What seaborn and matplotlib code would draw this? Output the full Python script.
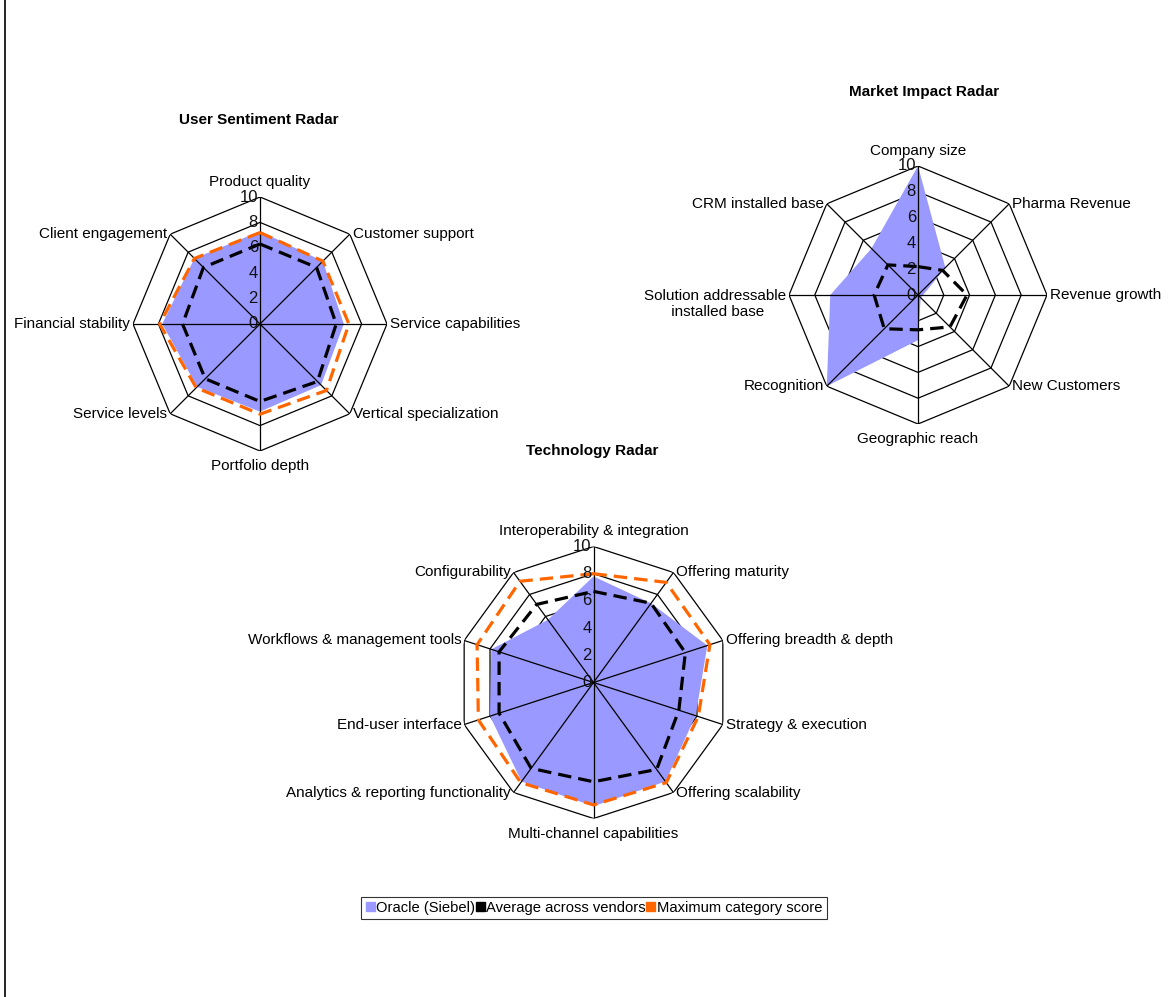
import numpy as np
import seaborn as sns
import matplotlib.pyplot as plt
from matplotlib.patches import Patch
from matplotlib.lines import Line2D

# data
us_labels = ['Product quality', 'Customer support', 'Service capabilities',
             'Vertical specialization', 'Portfolio depth', 'Service levels',
             'Financial stability', 'Client engagement']
us_oracle = [7.3, 7.0, 6.6, 6.8, 6.9, 7.0, 7.7, 7.3]
us_avg = [6.3, 6.3, 6.0, 6.4, 6.1, 6.1, 6.1, 6.3]
us_max = [7.2, 7.0, 7.0, 7.4, 7.1, 7.1, 7.9, 7.3]

mi_labels = ['Company size', 'Pharma Revenue', 'Revenue growth', 'New Customers',
             'Geographic reach', 'Recognition', 'Solution addressable\n installed base',
             'CRM installed base']
mi_oracle = [10.0, 3.0, 0.4, 0.3, 3.5, 10.0, 6.8, 5.1]
mi_avg = [2.2, 2.7, 3.8, 3.5, 2.7, 3.7, 3.4, 3.3]

tech_labels = ['Interoperability & integration', 'Offering maturity',
               'Offering breadth & depth', 'Strategy & execution', 'Offering scalability',
               'Multi-channel capabilities', 'Analytics & reporting functionality',
               'End-user interface', 'Workflows & management tools', 'Configurability']
tech_oracle = [7.8, 7.2, 8.8, 7.9, 9.0, 9.1, 9.0, 8.0, 7.9, 5.7]
tech_avg = [6.7, 7.2, 7.1, 6.6, 7.9, 7.3, 7.8, 7.3, 7.3, 7.1]
tech_max = [8.0, 9.1, 9.0, 8.1, 9.1, 9.0, 9.1, 8.9, 9.0, 9.2]

ring_levels = [2, 4, 6, 8, 10]
tick_levels = [0, 2, 4, 6, 8, 10]

ORACLE = '#9999FF'
ORANGE = '#FF6600'
DASH = (0, (4.2, 2.2))

sns.set_theme(style='white')
plt.rcParams['font.family'] = ['Liberation Sans', 'DejaVu Sans']
plt.rcParams['text.color'] = 'black'

W, H = 1174, 997
fig = plt.figure(figsize=(W / 100, H / 100), dpi=100)


def closed(a):
    return list(a) + [a[0]]


def radar(cx, cy, rad, labels, oracle, avg, mx=None):
    # cx, cy, rad in pixels (from top-left)
    ax = fig.add_axes([(cx - rad) / W, (H - cy - rad) / H, 2 * rad / W, 2 * rad / H],
                      projection='polar')
    ax.set_theta_zero_location('N')
    ax.set_theta_direction(-1)
    n = len(labels)
    th = np.linspace(0, 2 * np.pi, n, endpoint=False)
    thc = closed(th)

    for r in ring_levels:
        ax.plot(thc, [r] * (n + 1), color='black', lw=0.9, zorder=1)
    ax.fill(thc, closed(oracle), color=ORACLE, lw=0, zorder=2)
    for t in th:
        ax.plot([t, t], [0, 10], color='black', lw=0.9, zorder=3)

    sns.lineplot(x=thc, y=closed(avg), ax=ax, sort=False, estimator=None,
                 color='black', lw=2.3, linestyle=DASH, zorder=4)
    if mx is not None:
        sns.lineplot(x=thc, y=closed(mx), ax=ax, sort=False, estimator=None,
                     color=ORANGE, lw=2.3, linestyle=DASH, zorder=5)

    ax.set_ylim(0, 10)
    ax.grid(False)
    ax.spines['polar'].set_visible(False)
    ax.set_xticks([])
    ax.set_yticks([])
    ax.set_xlabel('')
    ax.set_ylabel('')
    ax.set_facecolor('none')

    for r in tick_levels:
        ax.annotate(str(r), (0, r), xytext=(-1.5, 0), textcoords='offset points',
                    ha='right', va='center', fontsize=12, color='#111111', zorder=6)

    for t, lab in zip(th, labels):
        s, c = np.sin(t), np.cos(t)
        if abs(s) < 0.1:
            ha = 'center'
            va = 'bottom' if c > 0 else 'top'
            off = (0, 6 if c > 0 else -6)
        else:
            ha = 'left' if s > 0 else 'right'
            va = 'center'
            off = (2 if s > 0 else -2, 0)
        if '\n' in lab:
            va = 'top'
            off = (off[0], 4.5)
        ax.annotate(lab, (t, 10), xytext=off, textcoords='offset points',
                    ha=ha, va=va, fontsize=11, multialignment='center',
                    annotation_clip=False)
    return ax


radar(260, 324, 127, us_labels, us_oracle, us_avg, us_max)
radar(918, 295, 129, mi_labels, mi_oracle, mi_avg)
radar(593.5, 682.5, 136, tech_labels, tech_oracle, tech_avg, tech_max)

fig.text(259 / W, 1 - 120 / H, 'User Sentiment Radar', ha='center', va='center',
         fontsize=11, fontweight='bold')
fig.text(924 / W, 1 - 92 / H, 'Market Impact Radar', ha='center', va='center',
         fontsize=11, fontweight='bold')
fig.text(592 / W, 1 - 451 / H, 'Technology Radar', ha='center', va='center',
         fontsize=11, fontweight='bold')

handles = [Patch(color=ORACLE, label='Oracle (Siebel)'),
           Patch(color='black', label='Average across vendors'),
           Patch(color=ORANGE, label='Maximum category score')]
leg = fig.legend(handles=handles, loc='center', bbox_to_anchor=(594 / W, 1 - 908 / H),
                 ncol=3, fontsize=10.6, frameon=True, fancybox=False, borderpad=0.3,
                 handlelength=0.6, handleheight=0.6, handletextpad=0.1,
                 columnspacing=0.05)
leg.get_frame().set_edgecolor('black')
leg.get_frame().set_linewidth(0.8)

fig.add_artist(Line2D([5 / W, 5 / W], [0, 1], color='black', lw=1.2))

fig.savefig('out.png', dpi=100, facecolor='white')
